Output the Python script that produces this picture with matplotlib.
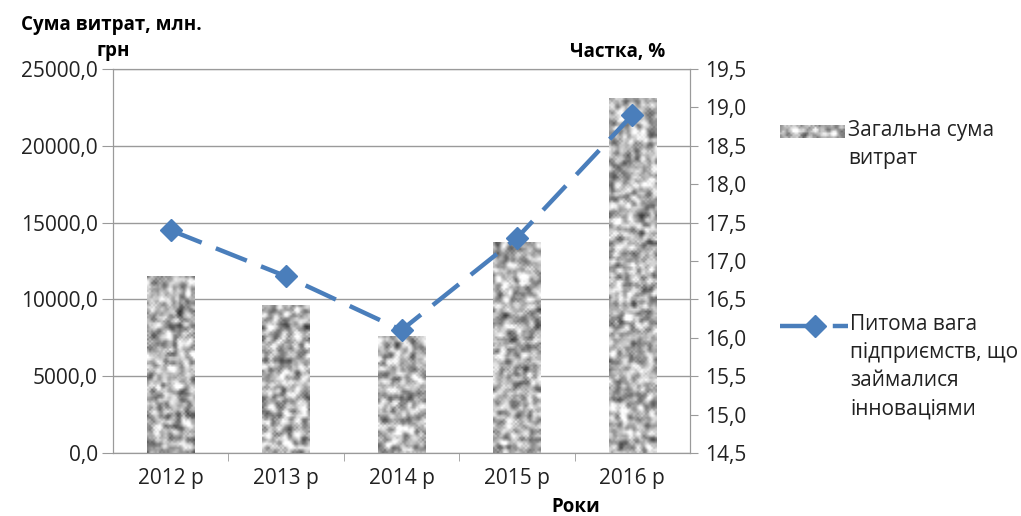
import numpy as np
import matplotlib
matplotlib.use('Agg')
import matplotlib.pyplot as plt
from matplotlib.lines import Line2D

# data
years = ['2012 р', '2013 р', '2014 р', '2015 р', '2016 р']
costs = [11500, 9600, 7600, 13700, 23100]      # млн. грн
share = [17.4, 16.8, 16.1, 17.3, 18.9]         # %
left_ticks = [0, 5000, 10000, 15000, 20000, 25000]
right_ticks = [14.5, 15.0, 15.5, 16.0, 16.5, 17.0, 17.5, 18.0, 18.5, 19.0, 19.5]

plt.rcParams['font.family'] = ['Open Sans', 'DejaVu Sans']
plt.rcParams['lines.scale_dashes'] = False

W, H = 1021, 516
fig = plt.figure(figsize=(W / 100, H / 100), dpi=100)
ax = fig.add_axes([113 / W, 1 - 453 / H, (690 - 113) / W, (453 - 69) / H])

grey = '#9a9a9a'
blue = '#4a7ebb'
txt = '#222222'
x = np.arange(len(years))

# bars with a granite-like texture
bars = ax.bar(x, costs, width=0.41, color='none', edgecolor='none', zorder=2)

rng = np.random.default_rng(3)


def granite(h, w):
    n = rng.random((h, w))
    for _ in range(2):
        n = (n + np.roll(n, 1, 0) + np.roll(n, -1, 0) + np.roll(n, 1, 1) + np.roll(n, -1, 1)) / 5
    return n


tex_lim = dict(cmap='gray', vmin=0.08, vmax=0.68)
px_per_unit = 384 / 25000
for b in bars:
    h = max(2, int(b.get_height() * px_per_unit / 2))
    ax.imshow(granite(h, 24), **tex_lim,
              extent=(b.get_x(), b.get_x() + b.get_width(), 0, b.get_height()),
              aspect='auto', interpolation='bilinear', zorder=2)

ax.set_xlim(-0.5, len(years) - 0.5)
ax.set_ylim(0, 25000)
ax.set_yticks(left_ticks)
ax.set_yticklabels([f'{v:.1f}'.replace('.', ',') for v in left_ticks])
ax.set_xticks(x)
ax.set_xticklabels(years)
ax.set_xticks(x[:-1] + 0.5, minor=True)
ax.tick_params(axis='x', which='major', length=0, pad=11, labelsize=15, colors=txt)
ax.tick_params(axis='x', which='minor', length=6, color=grey, direction='out')
ax.tick_params(axis='y', length=8, pad=3, color=grey, labelsize=15, labelcolor=txt)
ax.grid(axis='y', color=grey, lw=1)
ax.set_axisbelow(True)
for s in ax.spines.values():
    s.set_color(grey)

# line on the right axis
ax2 = ax.twinx()
ax2.plot(x, share, color=blue, lw=3.2, dashes=(24, 11), marker='D', markersize=11, zorder=3)
ax2.set_ylim(14.5, 19.5)
ax2.set_yticks(right_ticks)
ax2.set_yticklabels([f'{v:.1f}'.replace('.', ',') for v in right_ticks])
ax2.tick_params(axis='y', length=6, pad=5, color=grey, labelsize=15, labelcolor=txt)
for s in ax2.spines.values():
    s.set_color(grey)

# axis titles
fig.text(111 / W, 1 - 25 / H, 'Сума витрат, млн.', ha='center', va='center',
         fontweight='bold', fontsize=13.5)
fig.text(113 / W, 1 - 51 / H, 'грн', ha='center', va='center', fontweight='bold', fontsize=13.5)
fig.text(618 / W, 1 - 52 / H, 'Частка, %', ha='center', va='center', fontweight='bold', fontsize=13.5)
fig.text(576 / W, 1 - 507 / H, 'Роки', ha='center', va='center', fontweight='bold', fontsize=13.5)

# legend drawn by hand
lax = fig.add_axes([780 / W, 1 - 138 / H, 65 / W, 13 / H])
lax.imshow(granite(7, 32), **tex_lim, aspect='auto', interpolation='bilinear')
lax.axis('off')
fig.text(848 / W, 1 - 120 / H, 'Загальна сума\nвитрат', ha='left', va='top',
         fontsize=15, linespacing=1.45, color=txt)

fig.add_artist(Line2D([780 / W, 848 / W], [1 - 326 / H] * 2, transform=fig.transFigure,
                      color=blue, lw=3.2, dashes=(24, 14)))
fig.add_artist(Line2D([815 / W], [1 - 326 / H], transform=fig.transFigure,
                      color=blue, marker='D', markersize=11, lw=0))
fig.text(850 / W, 1 - 314 / H, 'Питома вага\nпідприємств, що\nзаймалися\nінноваціями',
         ha='left', va='top', fontsize=15, linespacing=1.45, color=txt)

fig.savefig('out.png', dpi=100)
